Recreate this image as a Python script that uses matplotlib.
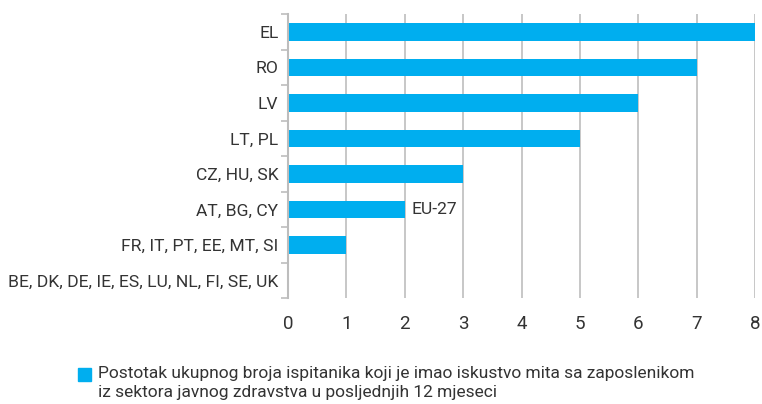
import matplotlib.pyplot as plt
from matplotlib.patches import Rectangle
import numpy as np

plt.rcParams['font.family'] = ['Roboto', 'DejaVu Sans']

# Zemlje grupirane po vrijednosti (odozgo prema dolje)
zemlje = ["EL", "RO", "LV", "LT, PL", "CZ, HU, SK", "AT, BG, CY",
          "FR, IT, PT, EE, MT, SI", "BE, DK, DE, IE, ES, LU, NL, FI, SE, UK"]
postotak = [8, 7, 6, 5, 3, 2, 1, 0]
eu_prosjek = 2
eu_oznaka = "EU-27"
legenda = ("Postotak ukupnog broja ispitanika koji je imao iskustvo mita sa zaposlenikom\n"
           "iz sektora javnog zdravstva u posljednjih 12 mjeseci")

plava = "#00AEEF"
siva = "#BDBDBD"
tekst = "#333333"

fig = plt.figure(figsize=(7.62, 4.04), dpi=100)
ax = fig.add_axes([0.378, 0.262, 0.613, 0.703])

y = np.arange(len(zemlje))
ax.barh(y, postotak, height=0.5, color=plava, zorder=3)
ax.set_ylim(len(zemlje) - 0.5, -0.5)
ax.set_xlim(0, 8)

ax.set_yticks(y)
ax.set_yticklabels(zemlje, fontsize=12.6, color=tekst)
ax.set_yticks(np.arange(len(zemlje) + 1) - 0.5, minor=True)
ax.tick_params(axis='y', which='major', length=0, pad=7)
ax.tick_params(axis='y', which='minor', length=5, width=1.2, color=siva)

ax.set_xticks(range(0, 9))
ax.tick_params(axis='x', length=0, labelsize=13.5, labelcolor=tekst, pad=12)
ax.grid(axis='x', color=siva, linewidth=1.2, zorder=0)

for s in ['top', 'right', 'bottom']:
    ax.spines[s].set_visible(False)
ax.spines['left'].set_color(siva)
ax.spines['left'].set_linewidth(1.5)
ax.spines['left'].set_zorder(4)

# oznaka prosjeka EU uz odgovarajuci stupac
idx = postotak.index(eu_prosjek)
ax.annotate(eu_oznaka, xy=(eu_prosjek, y[idx]), xytext=(5, 0),
            textcoords='offset points', va='center', ha='left',
            fontsize=12.6, color=tekst)

# legenda
fig.patches.append(Rectangle((78 / 762, 1 - 381 / 404), 13 / 762, 13 / 404,
                             transform=fig.transFigure, color=plava))
fig.text(98 / 762, 1 - 366 / 404, legenda, fontsize=12.5, color=tekst,
         va='top', ha='left', linespacing=1.35)

fig.savefig("out.png", dpi=100)
